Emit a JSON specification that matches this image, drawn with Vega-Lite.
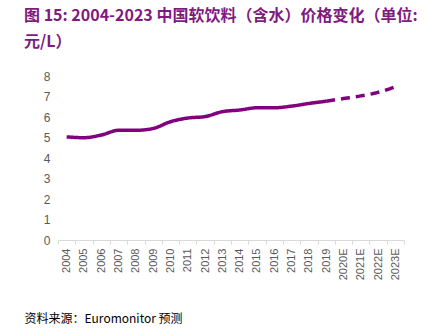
{
  "$schema": "https://vega.github.io/schema/vega-lite/v6.json",
  "width": 346,
  "height": 164,
  "autosize": {"type": "none"},
  "padding": {"left": 58, "top": 76, "right": 34, "bottom": 93},
  "background": "white",
  "title": {
    "text": ["图 15: 2004-2023 中国软饮料（含水）价格变化（单位:", "元/L）"],
    "anchor": "start",
    "frame": "group",
    "dx": -34,
    "offset": 20,
    "font": "Noto Sans CJK SC",
    "fontSize": 16,
    "fontWeight": "bold",
    "color": "#7F1A7F",
    "lineHeight": 26
  },
  "data": {
    "values": [
      {"year": "2004", "value": 5.03, "series": "actual"},
      {"year": "2005", "value": 4.99, "series": "actual"},
      {"year": "2006", "value": 5.12, "series": "actual"},
      {"year": "2007", "value": 5.35, "series": "actual"},
      {"year": "2008", "value": 5.35, "series": "actual"},
      {"year": "2009", "value": 5.44, "series": "actual"},
      {"year": "2010", "value": 5.77, "series": "actual"},
      {"year": "2011", "value": 5.95, "series": "actual"},
      {"year": "2012", "value": 6.02, "series": "actual"},
      {"year": "2013", "value": 6.26, "series": "actual"},
      {"year": "2014", "value": 6.34, "series": "actual"},
      {"year": "2015", "value": 6.45, "series": "actual"},
      {"year": "2016", "value": 6.45, "series": "actual"},
      {"year": "2017", "value": 6.53, "series": "actual"},
      {"year": "2018", "value": 6.66, "series": "actual"},
      {"year": "2019", "value": 6.77, "series": "actual"},
      {"year": "2019", "value": 6.77, "series": "forecast"},
      {"year": "2020E", "value": 6.9, "series": "forecast"},
      {"year": "2021E", "value": 7.03, "series": "forecast"},
      {"year": "2022E", "value": 7.2, "series": "forecast"},
      {"year": "2023E", "value": 7.48, "series": "forecast"}
    ]
  },
  "mark": {"type": "line", "color": "#800080", "strokeWidth": 3.5, "interpolate": "monotone", "strokeCap": "butt"},
  "encoding": {
    "x": {
      "field": "year",
      "type": "ordinal",
      "sort": null,
      "scale": {"paddingInner": 0, "paddingOuter": 0},
      "axis": {
        "title": "资料来源：Euromonitor 预测",
        "titleFont": "Noto Sans CJK SC",
        "titleFontSize": 12,
        "titleFontWeight": "normal",
        "titleColor": "#000000",
        "titleAnchor": "start",
        "titleAlign": "left",
        "titleX": -34,
        "titleY": 78,
        "titleBaseline": "middle",
        "labelAngle": -90,
        "labelFont": "Liberation Sans",
        "labelFontSize": 11,
        "labelColor": "#595959",
        "labelPadding": 4,
        "labelOverlap": false,
        "tickBand": "extent",
        "tickSize": 4,
        "tickColor": "#D9D9D9",
        "domainColor": "#D9D9D9",
        "grid": false
      }
    },
    "y": {
      "field": "value",
      "type": "quantitative",
      "scale": {"domain": [0, 8], "nice": false},
      "axis": {
        "title": null,
        "values": [0, 1, 2, 3, 4, 5, 6, 7, 8],
        "labelOverlap": false,
        "domain": false,
        "ticks": false,
        "grid": false,
        "labelFont": "Liberation Sans",
        "labelFontSize": 12,
        "labelColor": "#595959",
        "labelPadding": 8
      }
    },
    "strokeDash": {
      "field": "series",
      "type": "nominal",
      "scale": {"domain": ["actual", "forecast"], "range": [[1, 0], [9, 6]]},
      "legend": null
    }
  },
  "config": {"view": {"stroke": null}}
}
